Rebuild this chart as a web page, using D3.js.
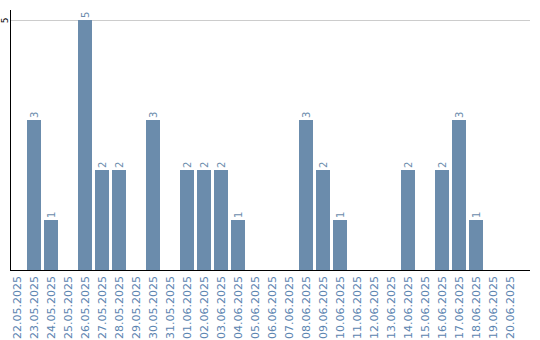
<!DOCTYPE html>
<html><head><meta charset="utf-8">
<script src="https://cdn.jsdelivr.net/npm/d3@7"></script>
<style>body{margin:0;background:#fff;}svg{display:block;font-family:"DejaVu Sans",sans-serif;}</style>
</head><body>
<svg id="c" width="540" height="340"></svg>
<script>
const categories = ["22.05.2025","23.05.2025","24.05.2025","25.05.2025","26.05.2025","27.05.2025","28.05.2025","29.05.2025","30.05.2025","31.05.2025","01.06.2025","02.06.2025","03.06.2025","04.06.2025","05.06.2025","06.06.2025","07.06.2025","08.06.2025","09.06.2025","10.06.2025","11.06.2025","12.06.2025","13.06.2025","14.06.2025","15.06.2025","16.06.2025","17.06.2025","18.06.2025","19.06.2025","20.06.2025"];
const values = [0,3,1,0,5,2,2,0,3,0,2,2,2,1,0,0,0,3,2,1,0,0,0,2,0,2,3,1,0,0];
const yTicks = [5];

const svg = d3.select("#c");
const x = d3.scaleBand().domain(categories).range([8.5, 518.5]).paddingInner(3/17).paddingOuter(1.5/17);
const y = d3.scaleLinear().domain([0, 5]).range([270, 20]);

// gridline
svg.append("g").selectAll("line").data(yTicks).join("line")
  .attr("x1", 10).attr("x2", 530).attr("y1", d => y(d)+0.5).attr("y2", d => y(d)+0.5)
  .attr("stroke", "#cccccc").attr("stroke-width", 1);

// bars
svg.append("g").selectAll("rect").data(values.map((v,i)=>({c:categories[i],v}))).join("rect")
  .filter(d => d.v > 0)
  .attr("x", d => x(d.c)).attr("width", x.bandwidth())
  .attr("y", d => y(d.v)).attr("height", d => y(0) - y(d.v))
  .attr("fill", "#6b8cac");

// value labels
svg.append("g").selectAll("text").data(values.map((v,i)=>({c:categories[i],v}))).join("text")
  .filter(d => d.v > 0)
  .attr("transform", d => `translate(${x(d.c)+x.bandwidth()/2+4},${y(d.v)-2}) rotate(-90)`)
  .attr("font-size", 10).attr("fill", "#6b8cac").text(d => d.v);

// y axis
const yAxis = svg.append("g").attr("transform","translate(10,0)")
  .call(d3.axisLeft(y).tickValues(yTicks).tickFormat(d3.format("d")).tickSize(0).tickPadding(0));
yAxis.select(".domain").remove();
yAxis.selectAll("text").attr("transform", "translate(-2,0) rotate(-90)")
  .attr("x", 0).attr("y", 0).attr("dy","0").attr("text-anchor","middle").attr("font-size", 9).attr("fill","#000")
  .attr("font-family","DejaVu Sans");
svg.append("line").attr("x1",10.5).attr("x2",10.5).attr("y1",10).attr("y2",270.5).attr("stroke","#000");

// x axis
const xAxis = svg.append("g").attr("transform","translate(0,270)")
  .call(d3.axisBottom(x).tickSize(0).tickPadding(0));
xAxis.select(".domain").remove();
xAxis.selectAll("text")
  .attr("transform", "translate(4,6) rotate(-90)")
  .attr("x",0).attr("y",0).attr("dy","0").attr("text-anchor","end")
  .attr("font-size", 11).attr("fill", "#5b84b0").attr("font-family","DejaVu Sans");
svg.append("line").attr("x1",10).attr("x2",530).attr("y1",270.5).attr("y2",270.5).attr("stroke","#000");
</script>
</body></html>
